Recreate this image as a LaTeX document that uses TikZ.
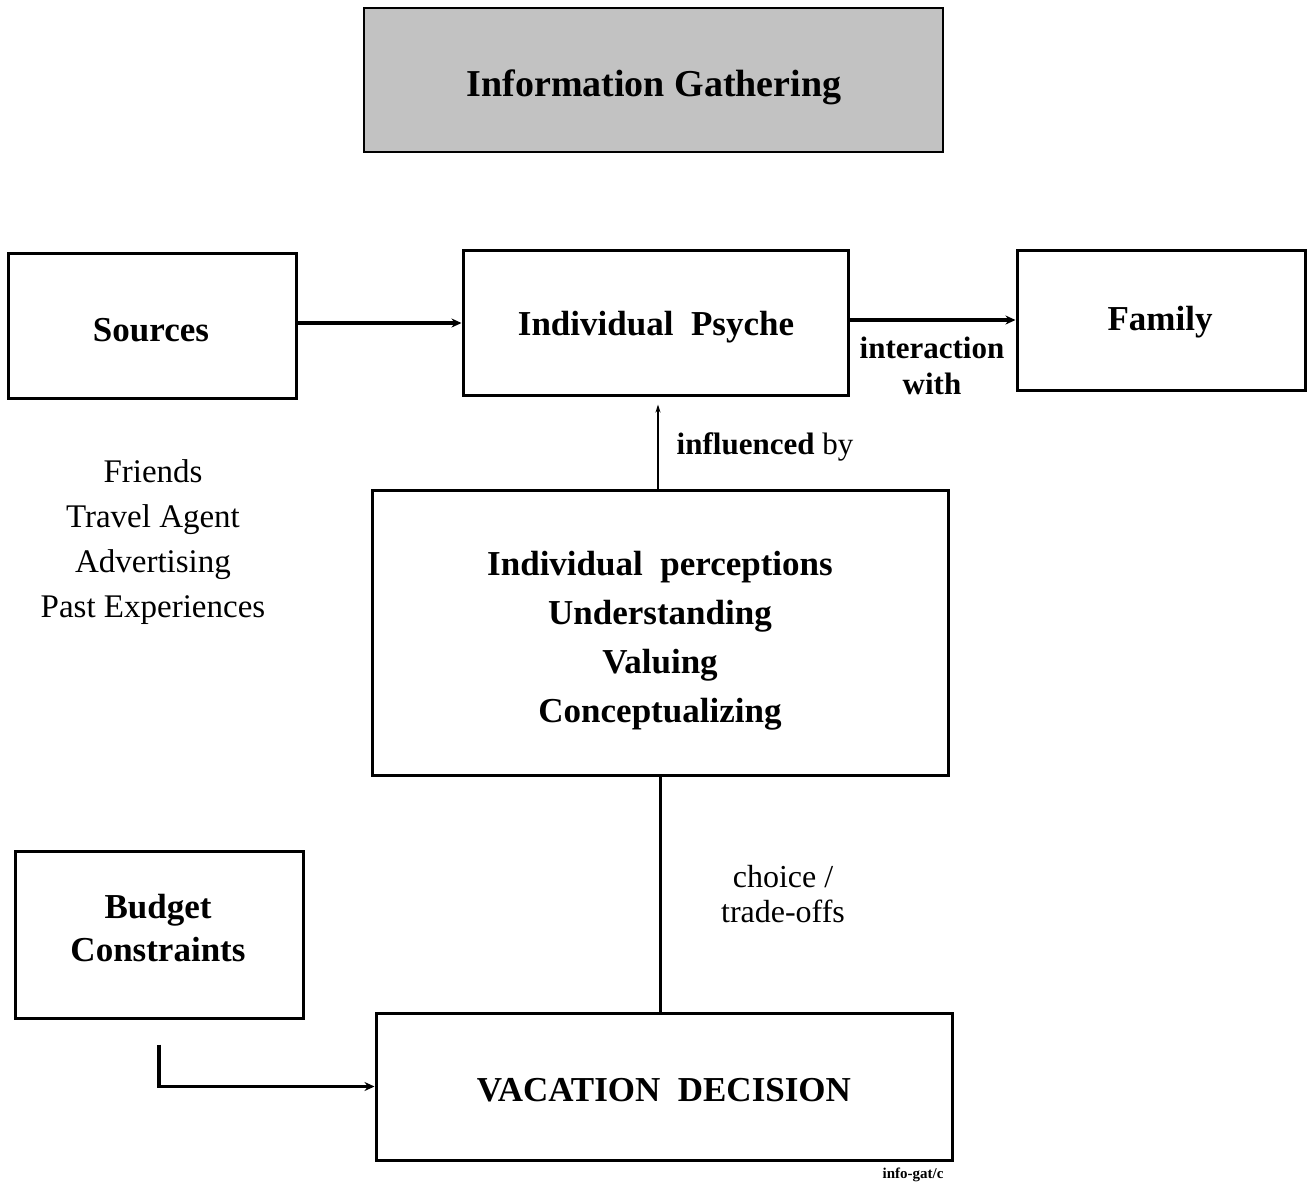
\documentclass[tikz,border=0pt]{standalone}
\usepackage{fontspec}
\setmainfont{Liberation Serif}
\usetikzlibrary{arrows.meta}
\begin{document}
\begin{tikzpicture}[x=1pt,y=-1pt,
  box/.style={draw=black,line width=3pt,fill=white,inner sep=0pt},
  bt/.style={font=\bfseries\fontsize{35}{43}\selectfont,align=center,inner sep=0pt},
  rt/.style={font=\fontsize{33}{45}\selectfont,align=center,inner sep=0pt},
  conn/.style={line width=3pt},
  arr/.style={line width=3.5pt,-{Stealth[length=10pt,width=9pt]}}]
\useasboundingbox (0,0) rectangle (1310,1189);
% title
\node[box,fill=black!24,line width=2.5pt,minimum width=579pt,minimum height=144pt] (title) at (653.5,80) {};
\node[font=\bfseries\fontsize{38}{44}\selectfont,inner sep=0pt] (titletext) at (654,87) {Information Gathering};
% top row
\node[box,minimum width=288pt,minimum height=145pt] (sources) at (152,325.5) {};
\node[bt] (sourcestext) at (151,330) {Sources};
\node[box,minimum width=385pt,minimum height=145pt] (psyche) at (655.5,322.5) {};
\node[bt] (psychetext) at (656,327) {Individual\ \ Psyche};
\node[box,minimum width=288pt,minimum height=140pt] (family) at (1161,320) {};
\node[bt] (familytext) at (1160,322) {Family};
\draw[arr] (sources.east |- 0,323) -- (psyche.west |- 0,323);
\draw[arr] (psyche.east |- 0,320) -- (family.west |- 0,320);
\node[font=\bfseries\fontsize{31}{36}\selectfont,align=center,inner sep=0pt] (interact) at (932,366) {interaction\\with};
% sources list
\node[rt] (list) at (153,542) {Friends\\Travel Agent\\Advertising\\Past Experiences};
% perceptions
\node[box,minimum width=576pt,minimum height=285pt] (percep) at (660,632.5) {};
\node[font=\bfseries\fontsize{35}{49}\selectfont,align=center,inner sep=0pt] (perceptext) at (660,641) {Individual\ \ perceptions\\Understanding\\Valuing\\Conceptualizing};
\draw[line width=2.5pt,-{Stealth[length=8pt,width=5pt]}] (percep.north -| 658,0) -- ([yshift=-8pt]psyche.south -| 658,0);
\node[font=\fontsize{31}{36}\selectfont,inner sep=0pt] (influenced) at (765,447) {\textbf{influenced} by};
% budget
\node[box,minimum width=288pt,minimum height=167pt] (budget) at (159,934.5) {};
\node[bt] (budgettext) at (158,928) {Budget\\Constraints};
% decision
\node[box,minimum width=576pt,minimum height=147pt] (decision) at (664,1086.5) {};
\node[bt] (decisiontext) at (664,1090) {VACATION\ \ DECISION};
\draw[conn] (percep.south) -- (percep.south |- decision.north);
\node[font=\fontsize{32}{35}\selectfont,align=center,inner sep=0pt] (choice) at (783,894) {choice /\\trade-offs};
\draw[arr] ([yshift=-25pt]budget.south) |- (decision.west);
\node[font=\bfseries\fontsize{15}{18}\selectfont,inner sep=0pt] (tag) at (913,1175) {info-gat/c};
\end{tikzpicture}
\end{document}
